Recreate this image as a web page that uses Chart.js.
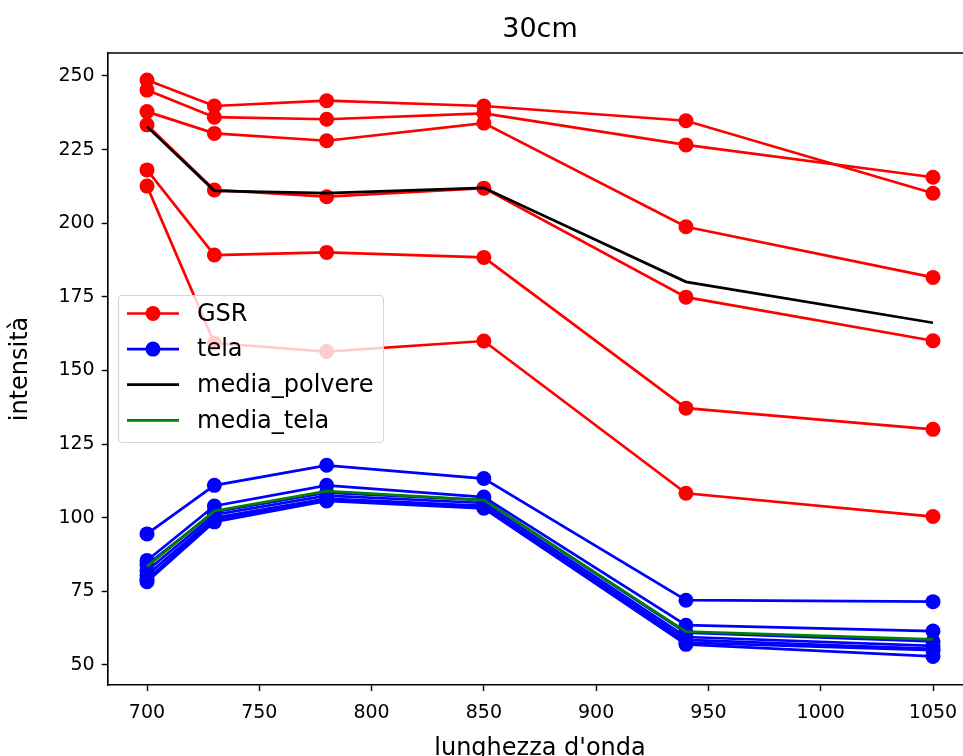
<!DOCTYPE html>
<html><head><meta charset="utf-8">
<script src="https://cdn.jsdelivr.net/npm/chart.js@4/dist/chart.umd.min.js"></script>
<style>html,body{margin:0;padding:0;overflow:hidden;background:#fff}
#wrap{width:963px;height:756px;overflow:hidden;position:relative}
canvas{display:block;position:absolute;left:0;top:0}</style>
</head><body>
<div id="wrap"><canvas id="c" width="1000" height="780"></canvas></div>
<script>
const wavelengths = [700, 730, 780, 850, 940, 1050];
const gsr1 = [248.6, 239.8, 241.6, 239.8, 234.8, 210.2];
const gsr2 = [245.2, 236.0, 235.3, 237.3, 226.6, 215.6];
const gsr3 = [237.9, 230.5, 228.0, 234.0, 198.8, 181.6];
const gsr4 = [233.4, 211.3, 209.0, 211.9, 174.9, 160.1];
const gsr5 = [218.1, 189.2, 190.1, 188.4, 137.2, 130.0];
const gsr6 = [212.6, 159.3, 156.4, 160.0, 108.3, 100.4];
const tela1 = [94.5, 111.0, 117.8, 113.3, 72.0, 71.5];
const tela2 = [85.5, 104.0, 111.0, 107.0, 63.5, 61.5];
const tela3 = [84.0, 102.0, 108.5, 106.0, 61.0, 58.0];
const tela4 = [82.0, 101.0, 107.5, 105.0, 59.5, 56.5];
const tela5 = [80.5, 100.0, 106.5, 104.0, 58.5, 55.5];
const tela6 = [79.0, 99.5, 106.0, 103.5, 57.6, 55.0];
const tela7 = [78.3, 98.6, 105.7, 103.2, 57.0, 52.9];
const mediaPolvere = [232.8, 211.0, 210.2, 212.0, 180.1, 166.2];
const mediaTela = [83.4, 102.3, 109.0, 106.0, 61.3, 58.7];
const xTicks = [700, 750, 800, 850, 900, 950, 1000, 1050];
const yTicks = [50, 75, 100, 125, 150, 175, 200, 225, 250];
const legendLabels = ['GSR', 'tela', 'media_polvere', 'media_tela'];
const chartTitle = '30cm';
const xTitle = "lunghezza d'onda";
const yTitle = 'intensità';

const FONT = 'DejaVu Sans';
const RED = '#ff0000', BLUE = '#0000ff', BLACK = '#000000', GREEN = '#008000';

const pts = arr => arr.map((v, i) => ({x: wavelengths[i], y: v}));
const gsrSeries = [gsr1, gsr2, gsr3, gsr4, gsr5, gsr6];
const telaSeries = [tela1, tela2, tela3, tela4, tela5, tela6, tela7];

const datasets = [];
gsrSeries.forEach(s => datasets.push({
  label: 'GSR', data: pts(s), borderColor: RED, backgroundColor: RED,
  borderWidth: 2.7, pointRadius: 7.5, pointBorderWidth: 0, order: 4
}));
telaSeries.forEach(s => datasets.push({
  label: 'tela', data: pts(s), borderColor: BLUE, backgroundColor: BLUE,
  borderWidth: 2.7, pointRadius: 7.5, pointBorderWidth: 0, order: 3
}));
datasets.push({label: 'media_polvere', data: pts(mediaPolvere), borderColor: BLACK,
  borderWidth: 2.7, pointRadius: 0, order: 2});
datasets.push({label: 'media_tela', data: pts(mediaTela), borderColor: GREEN,
  borderWidth: 2.7, pointRadius: 0, order: 1});

const framePlugin = {
  id: 'frame',
  afterDatasetsDraw(chart) {
    const {ctx, chartArea: a} = chart;
    ctx.save();
    ctx.strokeStyle = '#000';
    ctx.lineWidth = 1.4;
    ctx.beginPath();
    ctx.moveTo(a.left, a.bottom);
    ctx.lineTo(a.left, a.top);
    ctx.lineTo(a.right, a.top);
    ctx.stroke();
    ctx.restore();
  }
};

const legendPlugin = {
  id: 'mplLegend',
  afterDraw(chart) {
    const ctx = chart.ctx;
    const x0 = 118.5, y0 = 295.5, w = 265, h = 147, r = 4;
    ctx.save();
    ctx.beginPath();
    ctx.moveTo(x0 + r, y0);
    ctx.arcTo(x0 + w, y0, x0 + w, y0 + h, r);
    ctx.arcTo(x0 + w, y0 + h, x0, y0 + h, r);
    ctx.arcTo(x0, y0 + h, x0, y0, r);
    ctx.arcTo(x0, y0, x0 + w, y0, r);
    ctx.closePath();
    ctx.fillStyle = 'rgba(255,255,255,0.8)';
    ctx.fill();
    ctx.strokeStyle = '#d6d6d6';
    ctx.lineWidth = 1.2;
    ctx.stroke();
    const colors = [RED, BLUE, BLACK, GREEN];
    const markers = [true, true, false, false];
    legendLabels.forEach((lab, i) => {
      const y = 313.5 + i * 35.6;
      ctx.strokeStyle = colors[i];
      ctx.lineWidth = 2.7;
      ctx.beginPath();
      ctx.moveTo(127, y);
      ctx.lineTo(179, y);
      ctx.stroke();
      if (markers[i]) {
        ctx.fillStyle = colors[i];
        ctx.beginPath();
        ctx.arc(153, y, 7.5, 0, Math.PI * 2);
        ctx.fill();
      }
      ctx.fillStyle = '#000';
      ctx.font = '24px "' + FONT + '"';
      ctx.textBaseline = 'middle';
      ctx.textAlign = 'left';
      ctx.fillText(lab, 197, y + 1);
    });
    ctx.restore();
  }
};

new Chart(document.getElementById('c'), {
  type: 'line',
  data: {datasets},
  plugins: [framePlugin, legendPlugin],
  options: {
    responsive: false,
    animation: false,
    devicePixelRatio: 1,
    events: [],
    layout: {padding: {left: 0, right: 27.7, top: 0, bottom: 0}},
    plugins: {
      legend: {display: false},
      tooltip: {enabled: false},
      title: {display: true, text: chartTitle, fullSize: false, color: '#000',
        font: {family: FONT, size: 27, weight: 'normal'}, padding: {top: 13.8, bottom: 6.8}}
    },
    scales: {
      x: {
        type: 'linear', min: 682.5, max: 1067.5,
        afterBuildTicks: s => { s.ticks = xTicks.map(v => ({value: v})); },
        afterFit: s => { s.height = 95; },
        grid: {display: true, drawOnChartArea: false, drawTicks: true, tickLength: 6,
          tickColor: '#000', tickWidth: 1.4},
        border: {display: true, color: '#000', width: 1.4},
        ticks: {color: '#000', font: {family: FONT, size: 19}, padding: 11,
          maxRotation: 0, autoSkip: false, callback: v => String(v)},
        title: {display: true, text: xTitle, color: '#000', font: {family: FONT, size: 24},
          padding: {top: 0, bottom: 16.5}}
      },
      y: {
        type: 'linear', min: 43.2, max: 257.8,
        afterBuildTicks: s => { s.ticks = yTicks.map(v => ({value: v})); },
        afterFit: s => { s.width = 107.7; },
        grid: {display: true, drawOnChartArea: false, drawTicks: true, tickLength: 6,
          tickColor: '#000', tickWidth: 1.4},
        border: {display: true, color: '#000', width: 1.4},
        ticks: {color: '#000', font: {family: FONT, size: 19}, padding: 7, autoSkip: false,
          callback: v => String(v)},
        title: {display: true, text: yTitle, color: '#000', font: {family: FONT, size: 24},
          padding: {top: 6.6, bottom: 0}}
      }
    }
  }
});
</script>
</body></html>
